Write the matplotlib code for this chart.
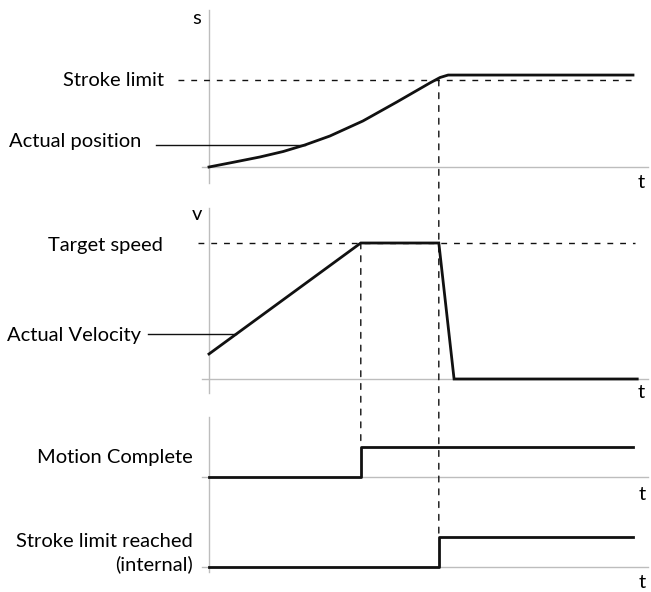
import matplotlib
matplotlib.use("Agg")
import matplotlib.pyplot as plt
from matplotlib.patches import ConnectionPatch

plt.rcParams['font.family'] = ['Lato', 'DejaVu Sans']

# ---------------- data ----------------
# time axis in arbitrary units (0..100)
t_motion_complete = 35.8
t_stroke_reached = 54.2

pos_t = [0, 5.7, 12.0, 17.5, 22.6, 28.5, 36.3, 44.3, 52.1, 54.5, 56.4, 100]
pos_s = [0, 5.4, 11.5, 17.8, 25.3, 35.6, 52.9, 74.7, 96.6, 102.9, 105.7, 105.7]
stroke_limit = 100

vel_t = [0, 35.8, 54.2, 57.8, 101]
vel_v = [18.4, 100, 100, 0, 0]
target_speed = 100

mc_t = [0, 35.8, 100]
mc_v = [0, 1, 1]

slr_t = [0, 54.2, 100]
slr_v = [0, 1, 1]

labels_pos = ["Stroke limit", "Actual position"]
labels_vel = ["Target speed", "Actual Velocity"]
label_mc = "Motion Complete"
label_slr = "Stroke limit reached\n(internal)"

# ---------------- layout ----------------
W, H = 651, 592
fig = plt.figure(figsize=(W / 100, H / 100), dpi=100)
px_per_t = 4.24
x0_px = 209
xlim = (-x0_px / px_per_t, (W - x0_px) / px_per_t)


def make_panel(top, bottom, y0, y1, v1):
    ax = fig.add_axes([0, 1 - bottom / H, 1, (bottom - top) / H])
    scale = (y0 - y1) / v1
    ax.set_ylim((y0 - bottom) / scale, (y0 - top) / scale)
    ax.set_xlim(xlim)
    ax.axis('off')
    return ax, scale


ax1, sc1 = make_panel(0, 195, 167, 80, 100)
ax2, sc2 = make_panel(195, 400, 379, 243, 100)
ax3, sc3 = make_panel(400, 500, 477, 447, 1)
ax4, sc4 = make_panel(500, 592, 567, 537, 1)

GREY = '#bdbdbd'
BLACK = '#111111'
FS = 14.5
LW = 2.0
dash = (0, (4.2, 5.0))

# grey axes
ax1.plot([0, 0], [(167 - 10) / sc1, (167 - 183) / sc1], color=GREY, lw=1.0)
ax1.plot([-7 / px_per_t, 439 / px_per_t], [0, 0], color=GREY, lw=1.0)
ax2.plot([0, 0], [(379 - 208) / sc2, (379 - 393) / sc2], color=GREY, lw=1.0)
ax2.plot([-7 / px_per_t, 439 / px_per_t], [0, 0], color=GREY, lw=1.0)
ax3.plot([0, 0], [(477 - 417) / sc3, (477 - 500) / sc3], color=GREY, lw=1.0)
ax3.plot([-7 / px_per_t, 439 / px_per_t], [0, 0], color=GREY, lw=1.0)
ax4.plot([0, 0], [(567 - 500) / sc4, (567 - 572) / sc4], color=GREY, lw=1.0)
ax4.plot([-7 / px_per_t, 439 / px_per_t], [0, 0], color=GREY, lw=1.0)

# reference dashed lines
ax1.plot([-31 / px_per_t, 426 / px_per_t], [stroke_limit, stroke_limit],
         color=BLACK, lw=1.0, linestyle=dash)
ax2.plot([-11 / px_per_t, 426 / px_per_t], [target_speed, target_speed],
         color=BLACK, lw=1.0, linestyle=dash)

# signals
ax1.plot(pos_t, pos_s, color=BLACK, lw=LW, solid_joinstyle='round')
ax2.plot(vel_t, vel_v, color=BLACK, lw=LW, solid_joinstyle='miter')
ax3.plot(mc_t, mc_v, color=BLACK, lw=LW, drawstyle='steps-post')
ax4.plot(slr_t, slr_v, color=BLACK, lw=LW, drawstyle='steps-post')

# vertical event lines
for tt, axA, yA, axB, yB in [(t_stroke_reached, ax1, stroke_limit, ax4, 1),
                              (t_motion_complete, ax2, target_speed, ax3, 1)]:
    cp = ConnectionPatch(xyA=(tt, yA), coordsA=axA.transData,
                         xyB=(tt, yB), coordsB=axB.transData,
                         color=BLACK, lw=1.0, linestyle=dash)
    fig.add_artist(cp)

# leader lines
lead_pos_t = 22.6
lead_pos_s = 25.3
ax1.plot([-53 / px_per_t, lead_pos_t], [lead_pos_s, lead_pos_s], color=BLACK, lw=1.0)
lead_vel_t = 6.4
lead_vel_v = 33.0
ax2.plot([-61 / px_per_t, lead_vel_t], [lead_vel_v, lead_vel_v], color=BLACK, lw=1.0)

# labels
def px_t(x):
    return (x - x0_px) / px_per_t

ax1.text(px_t(164), stroke_limit, labels_pos[0], ha='right', va='center', fontsize=FS)
ax1.text(px_t(141), (167 - 142) / sc1, labels_pos[1], ha='right', va='center', fontsize=FS)
ax2.text(px_t(163), (379 - 245) / sc2, labels_vel[0], ha='right', va='center', fontsize=FS)
ax2.text(px_t(141), (379 - 335) / sc2, labels_vel[1], ha='right', va='center', fontsize=FS)
ax3.text(px_t(193), (477 - 457) / sc3, label_mc, ha='right', va='center', fontsize=FS)
ax4.text(px_t(193), (567 - 553) / sc4, label_slr, ha='right', va='center',
         multialignment='right', fontsize=FS, linespacing=1.3)

ax1.text(px_t(197), (167 - 19) / sc1, 's', ha='center', va='center', fontsize=FS)
ax2.text(px_t(197), (379 - 215) / sc2, 'v', ha='center', va='center', fontsize=FS)
ax1.text(px_t(641), (167 - 183) / sc1, 't', ha='center', va='center', fontsize=FS)
ax2.text(px_t(641), (379 - 393) / sc2, 't', ha='center', va='center', fontsize=FS)
ax3.text(px_t(642), (477 - 494) / sc3, 't', ha='center', va='center', fontsize=FS)
ax4.text(px_t(642), (567 - 583) / sc4, 't', ha='center', va='center', fontsize=FS)

fig.savefig('out.png', dpi=100)
